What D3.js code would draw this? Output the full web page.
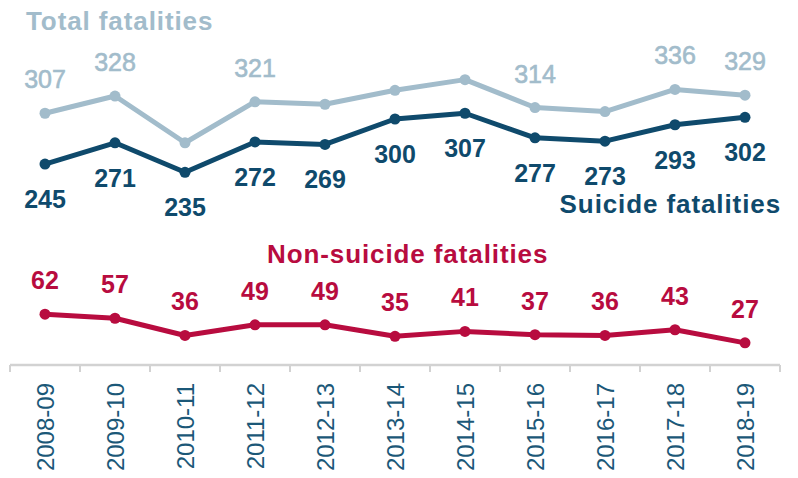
<!DOCTYPE html>
<html>
<head>
<meta charset="utf-8">
<script src="https://cdn.jsdelivr.net/npm/d3@7"></script>
<style>
  body { margin: 0; background: #fff; }
  text { font-family: "Liberation Sans", Arial, sans-serif; }
</style>
</head>
<body>
<svg id="chart" width="798" height="478"></svg>
<script>
var years = ["2008-09", "2009-10", "2010-11", "2011-12", "2012-13", "2013-14",
             "2014-15", "2015-16", "2016-17", "2017-18", "2018-19"]
var suicide    = [245, 271, 235, 272, 269, 300, 307, 277, 273, 293, 302]
var nonSuicide = [62, 57, 36, 49, 49, 35, 41, 37, 36, 43, 27]
var total      = [307, 328, 271, 321, 318, 335, 348, 314, 309, 336, 329]
// only some of the total values carry a label in the original
var totalLabelled = [true, true, false, true, false, false, false, true, false, true, true]

var c_total = "#a2bccb",
    c_suicide = "#0f4a6c",
    c_non = "#b80c3f",
    c_axis = "#1b5878"

function init_chart () {
	var svg = d3.select("#chart")

	var x = d3.scaleBand()
	          .domain(years)
	          .range([10, 780])
	var y = d3.scaleLinear()
	          .domain([0, 400])
	          .range([365, 37])
	var cx = d=>x(d) + x.bandwidth() / 2

	// axis line + boundary ticks
	var ax = svg.append("g")
	ax.append("line")
	  .attr("x1", 10).attr("x2", 780)
	  .attr("y1", 365).attr("y2", 365)
	  .style("stroke", "#d2d2d2").style("stroke-width", 2.5)
	ax.selectAll(".tick-line")
	  .data(d3.range(years.length + 1))
	  .enter()
	  .append("line")
	  .attr("class", "tick-line")
	  .attr("x1", i=>10 + i * x.step()).attr("x2", i=>10 + i * x.step())
	  .attr("y1", 365).attr("y2", 372)
	  .style("stroke", "#d2d2d2").style("stroke-width", 2)
	ax.selectAll(".year-label")
	  .data(years)
	  .enter()
	  .append("text")
	  .attr("class", "year-label")
	  .attr("transform", d=>"translate(" + cx(d) + ",383) rotate(-90)")
	  .attr("dy", "0.36em")
	  .attr("text-anchor", "end")
	  .style("font-size", "24px")
	  .style("fill", c_axis)
	  .text(d=>d)

	var series = [
		{ vals: total, color: c_total },
		{ vals: suicide, color: c_suicide },
		{ vals: nonSuicide, color: c_non }
	]

	var line = d3.line()
	             .x((d, i)=>cx(years[i]))
	             .y(d=>y(d))

	series.forEach(s=>{
		svg.append("path")
		   .datum(s.vals)
		   .attr("d", line)
		   .style("fill", "none")
		   .style("stroke", s.color)
		   .style("stroke-width", 5)
		   .style("stroke-linejoin", "round")
		svg.selectAll(null)
		   .data(s.vals)
		   .enter()
		   .append("circle")
		   .attr("cx", (d, i)=>cx(years[i]))
		   .attr("cy", d=>y(d))
		   .attr("r", 5.5)
		   .style("fill", s.color)
	})

	// value labels
	svg.selectAll(".lab-total")
	   .data(total.map((v, i)=>({v: v, i: i})).filter(d=>totalLabelled[d.i]))
	   .enter()
	   .append("text")
	   .attr("class", "lab-total")
	   .attr("x", d=>cx(years[d.i]))
	   .attr("y", d=>y(d.v) - 25)
	   .attr("text-anchor", "middle")
	   .style("font-size", "25px")
	   .style("fill", c_total)
	   .style("stroke", c_total)
	   .style("stroke-width", 0.6)
	   .text(d=>d.v)

	svg.selectAll(".lab-suicide")
	   .data(suicide)
	   .enter()
	   .append("text")
	   .attr("class", "lab-suicide")
	   .attr("x", (d, i)=>cx(years[i]))
	   .attr("y", d=>y(d) + 44)
	   .attr("text-anchor", "middle")
	   .style("font-size", "25px")
	   .style("font-weight", "bold")
	   .style("fill", c_suicide)
	   .text(d=>d)

	svg.selectAll(".lab-non")
	   .data(nonSuicide)
	   .enter()
	   .append("text")
	   .attr("class", "lab-non")
	   .attr("x", (d, i)=>cx(years[i]))
	   .attr("y", d=>y(d) - 25)
	   .attr("text-anchor", "middle")
	   .style("font-size", "25px")
	   .style("font-weight", "bold")
	   .style("fill", c_non)
	   .text(d=>d)

	// series titles
	var title = (txt, xx, yy, anchor, color)=>{
		svg.append("text")
		   .attr("x", xx).attr("y", yy)
		   .attr("text-anchor", anchor)
		   .style("font-size", "26px")
		   .style("font-weight", "bold")
		   .style("letter-spacing", "0.9px")
		   .style("fill", color)
		   .text(txt)
	}
	title("Total fatalities", 26, 30, "start", c_total)
	title("Suicide fatalities", 781, 213, "end", c_suicide)
	title("Non-suicide fatalities", 267, 263, "start", c_non)
}

init_chart()
</script>
</body>
</html>
